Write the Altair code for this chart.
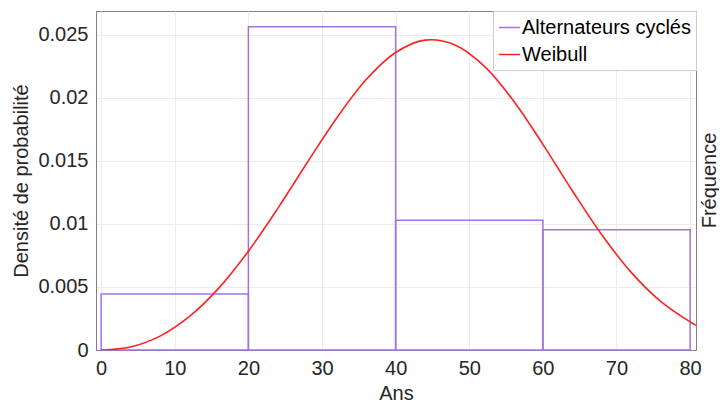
import altair as alt
import pandas as pd

# Histogram bins (Ans) and probability density
bin_start = [0, 20, 40, 60]
bin_end = [20, 40, 60, 80]
density = [0.00444, 0.02565, 0.01030, 0.00955]

# Weibull curve
w_x = [0, 4, 8, 12, 16, 20, 24, 28, 32, 36, 40, 44, 48, 52, 56, 60, 64, 68, 72, 76, 80, 80.8]
w_y = [0.0, 0.00024, 0.00110, 0.00266, 0.00493, 0.00784, 0.01124, 0.01488, 0.01841,
       0.02146, 0.02361, 0.02459, 0.02422, 0.02254, 0.01978, 0.01632, 0.01264, 0.00914,
       0.00616, 0.00386, 0.00223, 0.00196]

series = ["Alternateurs cyclés", "Weibull"]
colors = ["#a074e0", "#ff2020"]

x_ticks = [0, 10, 20, 30, 40, 50, 60, 70, 80]
y_ticks = [0, 0.005, 0.01, 0.015, 0.02, 0.025]

hist = pd.DataFrame({"x0": bin_start, "x1": bin_end, "y": density, "s": series[0]})
curve = pd.DataFrame({"x": w_x, "y": w_y, "s": series[1]})

FONT = "Liberation Sans"
TXT = "#262626"

xscale = alt.Scale(domain=[-0.7, 80.8], nice=False, zero=False)
yscale = alt.Scale(domain=[0, 0.0269], nice=False)
color = alt.Color("s:N", scale=alt.Scale(domain=series, range=colors),
                  legend=alt.Legend(title=None, orient="top-right", offset=0,
                                    symbolType="stroke", symbolSize=441,
                                    symbolStrokeWidth=1.5, labelFontSize=20,
                                    labelFont=FONT, labelColor="black",
                                    labelLimit=400,
                                    strokeColor="#cccccc", fillColor="white",
                                    padding=5, rowPadding=5, labelOffset=1))

y_label_expr = "datum.value == 0 ? '0' : format(datum.value, '.3~f')"

bars = alt.Chart(hist).mark_rect(fillOpacity=0, strokeWidth=1.5).encode(
    x=alt.X("x0:Q", scale=xscale,
            axis=alt.Axis(values=x_ticks, title="Ans", grid=True, ticks=False,
                          labelPadding=8, titlePadding=5, labelFontSize=20,
                          titleFontSize=20, labelFont=FONT, titleFont=FONT,
                          labelColor=TXT, titleColor=TXT, titleFontWeight="normal",
                          domainColor="#808080", gridColor="#ececec")),
    x2="x1:Q",
    y=alt.Y("y:Q", scale=yscale,
            axis=alt.Axis(values=y_ticks, title="Densité de probabilité", grid=True,
                          ticks=False, labelPadding=8, titlePadding=6,
                          labelExpr=y_label_expr,
                          labelFontSize=20, titleFontSize=20, labelFont=FONT,
                          titleFont=FONT, labelColor=TXT, titleColor=TXT,
                          titleFontWeight="normal", domainColor="#808080",
                          gridColor="#ececec")),
    y2=alt.datum(0),
    stroke=color,
)

line = alt.Chart(curve).mark_line(strokeWidth=1.6, interpolate="catmull-rom", clip=True).encode(
    x=alt.X("x:Q", scale=xscale),
    y=alt.Y("y:Q", scale=yscale,
            axis=alt.Axis(orient="right", labels=False, ticks=False, grid=False,
                          title="Fréquence", titleAngle=270, titleFontSize=20,
                          titleFont=FONT, titleColor=TXT, titleFontWeight="normal",
                          titleX=13, titleY=169, titleAlign="center",
                          titleBaseline="middle", domainColor="#808080")),
    stroke=color,
)

chart = alt.layer(bars, line).resolve_axis(y="independent").properties(
    width=600, height=339,
    autosize=alt.AutoSizeParams(type="none"),
    padding={"left": 88, "top": 3, "right": 23, "bottom": 53},
).configure_view(stroke="#808080", strokeWidth=1)

chart.save("out.html", embed_options={"renderer": "svg", "actions": False})
